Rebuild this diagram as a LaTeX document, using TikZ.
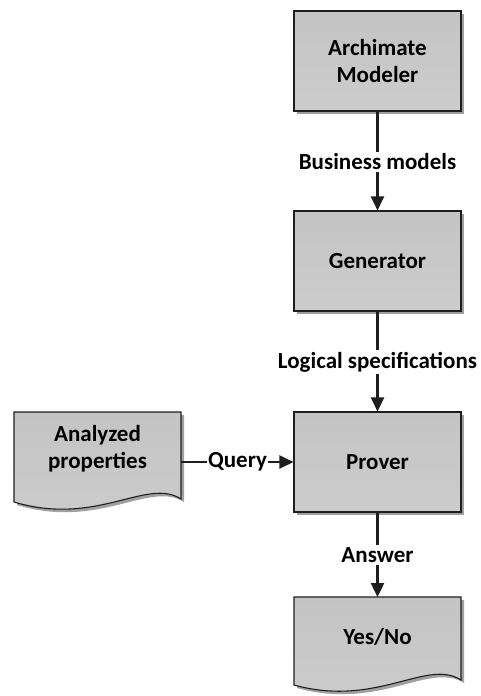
\documentclass[tikz,border=0pt]{standalone}
\usepackage{fontspec}
\setmainfont{Carlito}
\usetikzlibrary{arrows.meta,positioning,shadows}
\definecolor{boxtop}{RGB}{196,196,196}
\definecolor{boxbot}{RGB}{204,204,204}
\definecolor{shadowc}{RGB}{160,160,160}
\definecolor{edgec}{RGB}{30,30,30}
\tikzset{
  procbox/.style={rectangle, draw=edgec, line width=1.1pt, top color=boxtop, bottom color=boxbot,
    minimum width=167pt, minimum height=100pt, inner sep=0pt, align=center,
    font=\fontsize{23}{27}\selectfont\bfseries,
    drop shadow={shadow xshift=3pt, shadow yshift=-3pt, fill=shadowc, opacity=1}},
  lbl/.style={inner sep=2pt, font=\fontsize{23}{27}\selectfont\bfseries},
  conn/.style={line width=2.4pt, draw=edgec},
  arr/.style={conn, -{Triangle[width=13pt,length=14pt]}},
  doctext/.style={inner sep=0pt, align=center, font=\fontsize{23}{27}\selectfont\bfseries},
}
\begin{document}
\begin{tikzpicture}[x=1pt,y=-1pt]
\useasboundingbox (0,0) rectangle (481,696);
% process boxes
\node[procbox] (arch) at (377.5,61) {Archimate\\Modeler};
\node[procbox] (gen) at (377.5,261) {Generator};
\node[procbox] (prov) at (377.5,462) {Prover};
% document: Analyzed properties
\fill[shadowc] (17,415) -- (184,415) -- (184,502) .. controls (150,480) and (100,530) .. (17,505) -- cycle;
\shade[top color=boxtop, bottom color=boxbot, draw=edgec, line width=1.1pt]
  (14,412) -- (181,412) -- (181,499) .. controls (147,477) and (97,527) .. (14,502) -- cycle;
\node[doctext] (anal) at (97.5,449) {Analyzed\\properties};
\coordinate (analE) at (181,462);
% document: Yes/No
\fill[shadowc] (297,600) -- (464,600) -- (464,683) .. controls (430,661) and (380,711) .. (297,688) -- cycle;
\shade[top color=boxtop, bottom color=boxbot, draw=edgec, line width=1.1pt]
  (294,597) -- (461,597) -- (461,680) .. controls (427,658) and (377,708) .. (294,685) -- cycle;
\node[doctext] (yes) at (377.5,637) {Yes/No};
\coordinate (yesN) at (377.5,597);
% labels
\node[lbl] (bm) at (377.5,162) {Business models};
\node[lbl] (ls) at (377.5,362) {Logical specifications};
\node[lbl] (ans) at (377.5,555) {Answer};
\node[lbl, inner sep=1pt] (q) at (237.5,462) {Query};
% connectors
\draw[conn] (arch.south) -- (bm.north);
\draw[arr] (bm.south) -- (gen.north);
\draw[conn] (gen.south) -- (ls.north);
\draw[arr] (ls.south) -- (prov.north);
\draw[conn] (prov.south) -- (ans.north);
\draw[arr] (ans.south) -- (yesN);
\draw[conn] (analE) -- (q.west);
\draw[arr] (q.east) -- (prov.west);
\end{tikzpicture}
\end{document}
